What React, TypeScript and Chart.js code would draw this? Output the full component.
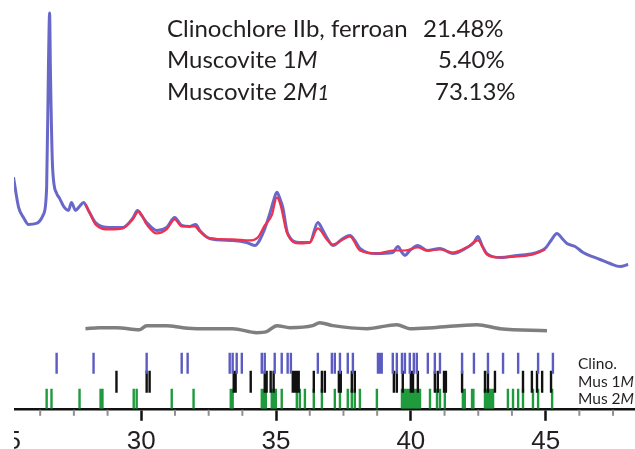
import React, { useEffect, useRef } from "react";
import { Chart, registerables } from "chart.js";
Chart.register(...registerables);

// ---------- data (2θ in degrees, intensity in counts) ----------
const obsTheta = [25.26, 25.45, 25.63, 25.82, 26.11, 26.37, 26.49, 26.56, 26.6, 26.63, 26.71, 26.86, 26.97, 27.12, 27.3, 27.41, 27.56, 27.71, 27.86, 28.04, 28.3, 28.82, 29.31, 29.68, 29.86, 30.01, 30.2, 30.57, 30.94, 31.24, 31.5, 31.8, 32.02, 32.17, 32.54, 33.39, 33.91, 34.21, 34.51, 34.77, 34.91, 35.03, 35.14, 35.25, 35.43, 35.88, 36.25, 36.55, 36.7, 36.88, 37.11, 37.48, 37.74, 37.92, 38.11, 38.74, 39.33, 39.52, 39.67, 39.78, 39.96, 40.26, 40.6, 41.08, 41.56, 42.08, 42.34, 42.49, 42.64, 42.82, 43.31, 43.94, 44.53, 44.98, 45.2, 45.42, 45.61, 45.79, 46.09, 46.39, 47.02, 47.39, 47.76, 48.06];
const obsCounts = [577.5, 502.5, 477.5, 460, 462.5, 485, 552.5, 870, 987.5, 845, 602.5, 537.5, 525, 505, 495, 515, 495, 505, 515, 495, 465, 452.5, 452.5, 475, 495, 482.5, 465, 445, 452.5, 477.5, 457.5, 455, 460, 445, 425, 420, 415, 407.5, 437.5, 487.5, 520, 540, 525, 502.5, 437.5, 415, 415, 465, 450, 427.5, 407.5, 425, 432.5, 420, 400, 387.5, 390, 405, 390, 382.5, 395, 407.5, 395, 400, 387.5, 402.5, 415, 430, 407.5, 387.5, 377.5, 382.5, 387.5, 400, 420, 437.5, 425, 412.5, 405, 390, 372.5, 362.5, 355, 360];

const calcTheta = [27.93, 28.08, 28.3, 28.82, 29.31, 29.68, 29.9, 30.2, 30.57, 30.94, 31.24, 31.5, 31.98, 32.17, 32.54, 33.39, 34.02, 34.32, 34.58, 34.84, 35.03, 35.17, 35.4, 35.88, 36.25, 36.55, 36.88, 37.11, 37.48, 37.74, 38.11, 38.74, 39.33, 39.78, 40.26, 40.6, 41.08, 41.56, 42.08, 42.49, 42.82, 43.31, 43.94, 44.53, 44.98];
const calcCounts = [510, 490, 460, 447.5, 450, 472.5, 492.5, 460, 437.5, 447.5, 472.5, 455, 455, 442.5, 425, 422.5, 420, 427.5, 457.5, 482.5, 527.5, 507.5, 440, 412.5, 415, 450, 422.5, 410, 422.5, 430, 395, 387.5, 395, 395, 402.5, 395, 397.5, 390, 402.5, 420, 385, 377.5, 380, 385, 397.5];

const diffTheta = [27.93, 28.45, 29.08, 29.94, 30.2, 30.94, 31.54, 32.17, 33.39, 34.28, 34.65, 35.03, 35.51, 36.36, 36.62, 37.11, 38.37, 39.48, 39.96, 40.82, 42.45, 43.31, 45.05];
const diffCounts = [200, 202.5, 202.5, 197.5, 207.5, 207.5, 202.5, 200, 200, 190, 192.5, 207.5, 202.5, 207.5, 215, 207.5, 200, 210, 200, 202.5, 210, 200, 195];

// reflection positions (2θ) of each phase
const clinoPeaks = [26.86, 28.23, 30.2, 31.5, 31.72, 33.28, 33.39, 33.54, 33.73, 34.47, 34.58, 34.95, 35.21, 35.43, 35.55, 36.55, 37.07, 37.18, 37.37, 37.66, 37.85, 38.78, 38.85, 38.92, 39.33, 39.48, 39.67, 39.78, 39.96, 40.11, 40.22, 40.63, 40.89, 41.08, 41.9, 42.34, 42.86, 43.42, 43.98, 44.72, 45.27];
const mus1MPeaks = [29.08, 30.2, 30.31, 33.43, 33.5, 34.06, 34.58, 34.65, 34.8, 34.91, 35.62, 35.69, 35.77, 35.84, 36.4, 36.7, 36.81, 37.33, 37.4, 37.81, 37.92, 39.37, 39.48, 39.7, 40.0, 40.08, 40.26, 40.89, 41.0, 41.23, 41.3, 41.9, 42.75, 42.86, 43.12, 44.16, 44.49, 44.68, 44.87, 45.2];
const mus2M1Peaks = [26.49, 26.67, 27.71, 28.49, 28.56, 29.72, 29.83, 31.13, 31.94, 33.32, 33.39, 34.47, 34.54, 34.62, 34.84, 34.91, 34.99, 35.21, 35.77, 35.88, 36.07, 36.4, 36.7, 37.18, 37.37, 37.66, 37.81, 37.92, 38.11, 38.74, 39.67, 39.74, 39.82, 39.89, 39.96, 40.04, 40.11, 40.19, 40.26, 40.34, 40.71, 40.97, 41.08, 41.26, 41.93, 42.0, 42.27, 42.32, 42.75, 42.8, 42.85, 42.9, 42.95, 43.0, 43.05, 43.6, 43.79, 43.98, 44.16, 44.53, 44.72, 45.24];

// axis ticks
const axisTickValues = [25, 26.25, 27.5, 28.75, 30, 31.25, 32.5, 33.75, 35, 36.25, 37.5, 38.75, 40, 41.25, 42.5, 43.75, 45, 46.25, 47.5, 48.75];
const majorTickLabels = ["25", "30", "35", "40", "45"];

// text
type Seg = [string, boolean, number?];
const phaseNames: Seg[][] = [
  [["Clinochlore IIb, ferroan", false]],
  [["Muscovite 1", false], ["M", true]],
  [["Muscovite 2", false], ["M", true], ["1", true, 0.85]],
];
const phasePercents = ["21.48%", "5.40%", "73.13%"];
const rowLabels: Seg[][] = [
  [["Clino.", false]],
  [["Mus 1", false], ["M", true]],
  [["Mus 2", false], ["M", true], ["1", true]],
];

// ---------- layout constants ----------
const CANVAS_LEFT = -47; // page x of the canvas' left edge
const CANVAS_W = 687;
const CANVAS_H = 462;
const TEXT_COLOR = "#231f20";
const ROW_RANGES: [number, number][] = [
  [87.5, 140],
  [40, 95],
  [0, 50],
];
const ROW_COLORS = ["#5b5bc2", "#111111", "#1f9a3c"];
const FONT = "Lato, 'Open Sans', sans-serif";

function pts(xs: number[], ys: number[]) {
  return xs.map((x, i) => ({ x, y: ys[i] }));
}
function segs(pos: number[], lo: number, hi: number) {
  const out: { x: number; y: number | null }[] = [];
  pos.forEach((p) => {
    out.push({ x: p, y: lo }, { x: p, y: hi }, { x: p, y: null });
  });
  return out;
}
function drawRich(ctx: CanvasRenderingContext2D, parts: Seg[], x: number, y: number, size: number) {
  let cx = x;
  parts.forEach(([t, it, sc]) => {
    const s = size * (sc ?? 1);
    ctx.font = `${it ? "italic " : ""}${s}px ${FONT}`;
    ctx.fillText(t, cx, y);
    cx += ctx.measureText(t).width;
  });
}

const textPlugin = {
  id: "xrdText",
  afterDraw(chart: any) {
    const ctx: CanvasRenderingContext2D = chart.ctx;
    const xs = chart.scales.x;
    const ys = chart.scales.y;
    ctx.save();
    // minor ticks
    ctx.strokeStyle = "#8f8f8f";
    ctx.lineWidth = 2;
    axisTickValues.forEach((v) => {
      if (v % 5 === 0) return;
      const px = xs.getPixelForValue(v);
      ctx.beginPath();
      ctx.moveTo(px, chart.chartArea.bottom + 1);
      ctx.lineTo(px, chart.chartArea.bottom + 7);
      ctx.stroke();
    });
    ctx.fillStyle = TEXT_COLOR;
    ctx.textBaseline = "alphabetic";
    ctx.textAlign = "left";
    // phase composition block
    const nameX = 167 - CANVAS_LEFT;
    const baselines = [37, 68, 100];
    const pctX = [423, 438, 435];
    phaseNames.forEach((p, i) => {
      drawRich(ctx, p, nameX, baselines[i], 24);
      ctx.font = `24px ${FONT}`;
      ctx.fillText(phasePercents[i], pctX[i] - CANVAS_LEFT, baselines[i]);
    });
    // row labels
    const lx = 578 - CANVAS_LEFT;
    rowLabels.forEach((p, i) => {
      const mid = ys.getPixelForValue((ROW_RANGES[i][0] + ROW_RANGES[i][1]) / 2);
      drawRich(ctx, p, lx, mid + 5.5, 15.5);
    });
    ctx.restore();
  },
};

export default function App() {
  const ref = useRef<HTMLCanvasElement | null>(null);
  useEffect(() => {
    if (!ref.current) return;
    const tickSets = [clinoPeaks, mus1MPeaks, mus2M1Peaks];
    const tickNames = ["Clino.", "Mus 1M", "Mus 2M1"];
    const chart = new Chart(ref.current, {
      type: "line",
      data: {
        datasets: [
          {
            label: "Calculated",
            data: pts(calcTheta, calcCounts),
            borderColor: "#f0304c",
            borderWidth: 2.2,
            pointRadius: 0,
            cubicInterpolationMode: "monotone",
            order: 0,
          },
          {
            label: "Observed",
            data: pts(obsTheta, obsCounts),
            borderColor: "rgba(78,78,190,0.85)",
            borderWidth: 3,
            pointRadius: 0,
            cubicInterpolationMode: "monotone",
            order: 1,
          },
          {
            label: "Difference",
            data: pts(diffTheta, diffCounts),
            borderColor: "#7f7f7f",
            borderWidth: 3.5,
            pointRadius: 0,
            cubicInterpolationMode: "monotone",
            order: 2,
          },
          ...tickSets.map((p, i) => ({
            label: tickNames[i],
            data: segs(p, ROW_RANGES[i][0], ROW_RANGES[i][1]),
            borderColor: ROW_COLORS[i],
            borderWidth: 2.4,
            pointRadius: 0,
            spanGaps: false,
            borderCapStyle: "butt" as const,
            order: 3 + i,
          })),
        ] as any,
      },
      options: {
        animation: false,
        responsive: false,
        events: [],
        layout: { padding: { left: 40, top: 8, right: 0, bottom: 0 } },
        plugins: { legend: { display: false }, tooltip: { enabled: false } },
        scales: {
          x: {
            type: "linear",
            min: 24.5,
            max: 48.5,
            afterBuildTicks: (scale: any) => {
              scale.ticks = axisTickValues.filter((v) => v <= 48.5).map((v) => ({ value: v }));
            },
            ticks: {
              autoSkip: false,
              maxRotation: 0,
              padding: 5,
              color: TEXT_COLOR,
              font: { family: "'Liberation Sans', Arial, sans-serif", size: 26 },
              callback: (v: any) => {
                const s = String(v);
                return majorTickLabels.includes(s) ? s : "";
              },
            },
            grid: {
              drawOnChartArea: false,
              drawTicks: true,
              tickLength: 12,
              tickWidth: 2.5,
              tickColor: (c: any) => (c.tick && c.tick.value % 5 === 0 ? "#111" : "rgba(0,0,0,0)"),
            },
            border: { display: true, color: "#111", width: 2.5 },
          },
          y: { type: "linear", min: 0, max: 1000, display: false },
        },
      },
      plugins: [textPlugin],
    });
    return () => chart.destroy();
  }, []);

  return (
    <div style={{ position: "fixed", left: 0, top: 0, width: 635, height: 449, overflow: "hidden", background: "#fff" }}>
      <div style={{ position: "absolute", left: 14, top: 0, width: 621, height: 449, overflow: "hidden" }}>
        <canvas
          ref={ref}
          width={CANVAS_W}
          height={CANVAS_H}
          style={{ position: "absolute", left: CANVAS_LEFT - 14, top: 0, width: CANVAS_W, height: CANVAS_H }}
        />
      </div>
    </div>
  );
}
